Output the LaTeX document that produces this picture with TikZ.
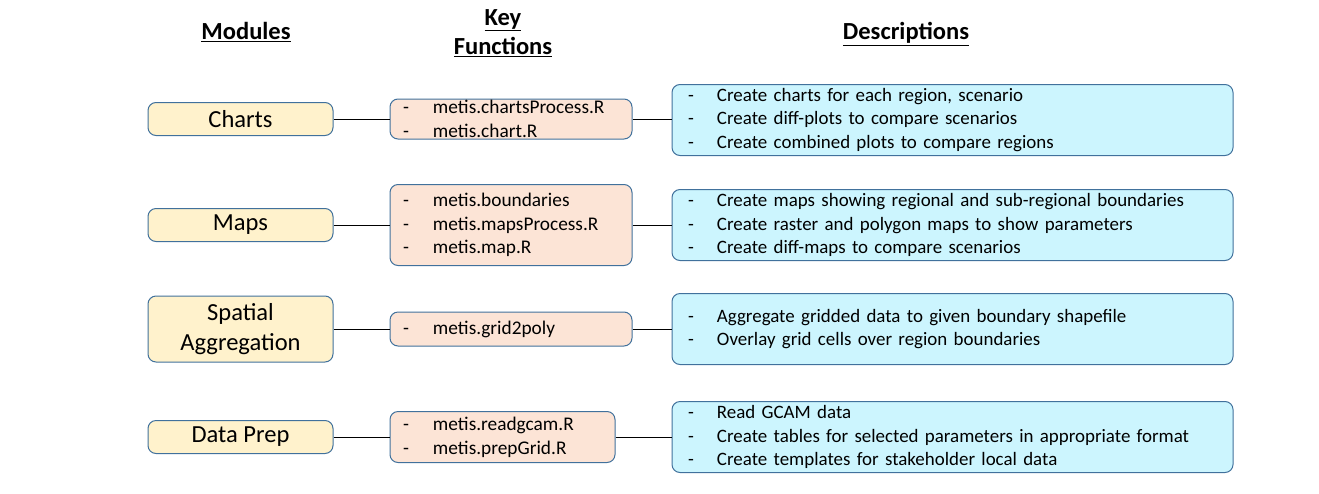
\documentclass[tikz,border=0pt]{standalone}
\usepackage{fontspec}
\setmainfont{Carlito}
\definecolor{bordblue}{HTML}{41719C}
\definecolor{modfill}{HTML}{FFF2CC}
\definecolor{funcfill}{HTML}{FCE4D6}
\definecolor{descfill}{HTML}{CCF5FE}
\newcommand{\fdash}{\makebox[22.5pt][l]{-}}
\newcommand{\ddash}{\makebox[21.75pt][l]{-}}
\begin{document}
\begin{tikzpicture}[x=0.75pt,y=-0.75pt,
	box/.style={draw=bordblue,rounded corners=6pt,line width=0.75pt,inner ysep=0pt},
	module/.style={box,fill=modfill,minimum width=138.75pt,minimum height=24.75pt,align=center,font=\fontsize{18.4}{22.5}\selectfont},
	func/.style={box,fill=funcfill,align=left,inner xsep=9.75pt,text width=162pt,font=\fontsize{14.5}{17.8}\selectfont},
	desc/.style={box,fill=descfill,align=left,inner xsep=12pt,text width=396.75pt,minimum height=53.25pt,font=\fontsize{14.2}{17.8}\selectfont},
	header/.style={align=center,font=\fontsize{18.4}{21.75}\selectfont\bfseries}]
	\useasboundingbox (0,0) rectangle (1319,493);
	% headers
	\node[header] (hm) at (246,32) {\underline{Modules}};
	\node[header] (hf) at (503,33) {\underline{Key}\\
	\underline{Functions}};
	\node[header] (hd) at (906,34) {\underline{Descriptions}};
	% modules
	\node[module] (mc) at (240.5,119) {Charts};
	\node[module] (mm) at (240.5,225) {Maps};
	\node[module,minimum height=49.5pt] (ms) at (240.5,329) {Spatial\\
	Aggregation};
	\node[module] (md) at (240.5,437) {Data Prep};
	% key functions
	\node[func,minimum height=30pt] (fc) at (511,119) {\fdash metis.chartsProcess.R\\
	\fdash metis.chart.R};
	\node[func,minimum height=60.75pt] (fm) at (511,225) {\fdash metis.boundaries\\
	\fdash metis.mapsProcess.R\\
	\fdash metis.map.R};
	\node[func,minimum height=25.5pt] (fs) at (511,329) {\fdash metis.grid2poly};
	\node[func,minimum height=38.25pt,text width=149.25pt] (fd) at (502.5,437) {\fdash metis.readgcam.R\\
	\fdash metis.prepGrid.R};
	% descriptions
	\node[desc] (dc) at (952.5,120) {\ddash Create charts for each region, scenario\\
	\ddash Create diff-plots to compare scenarios\\
	\ddash Create combined plots to compare regions};
	\node[desc] (dm) at (952.5,225) {\ddash Create maps showing regional and sub-regional boundaries\\
	\ddash Create raster and polygon maps to show parameters\\
	\ddash Create diff-maps to compare scenarios};
	\node[desc] (ds) at (952.5,329) {\ddash Aggregate gridded data to given boundary shapefile\\
	\ddash Overlay grid cells over region boundaries};
	\node[desc] (dd) at (952.5,437) {\ddash Read GCAM data\\
	\ddash Create tables for selected parameters in appropriate format\\
	\ddash Create templates for stakeholder local data};
	% connectors
	\draw (mc) -- (fc);
	\draw (fc) -- (dc.west |- fc);
	\draw (mm) -- (fm);
	\draw (fm) -- (dm);
	\draw (ms) -- (fs);
	\draw (fs) -- (ds);
	\draw (md) -- (fd);
	\draw (fd) -- (dd);
\end{tikzpicture}
\end{document}
